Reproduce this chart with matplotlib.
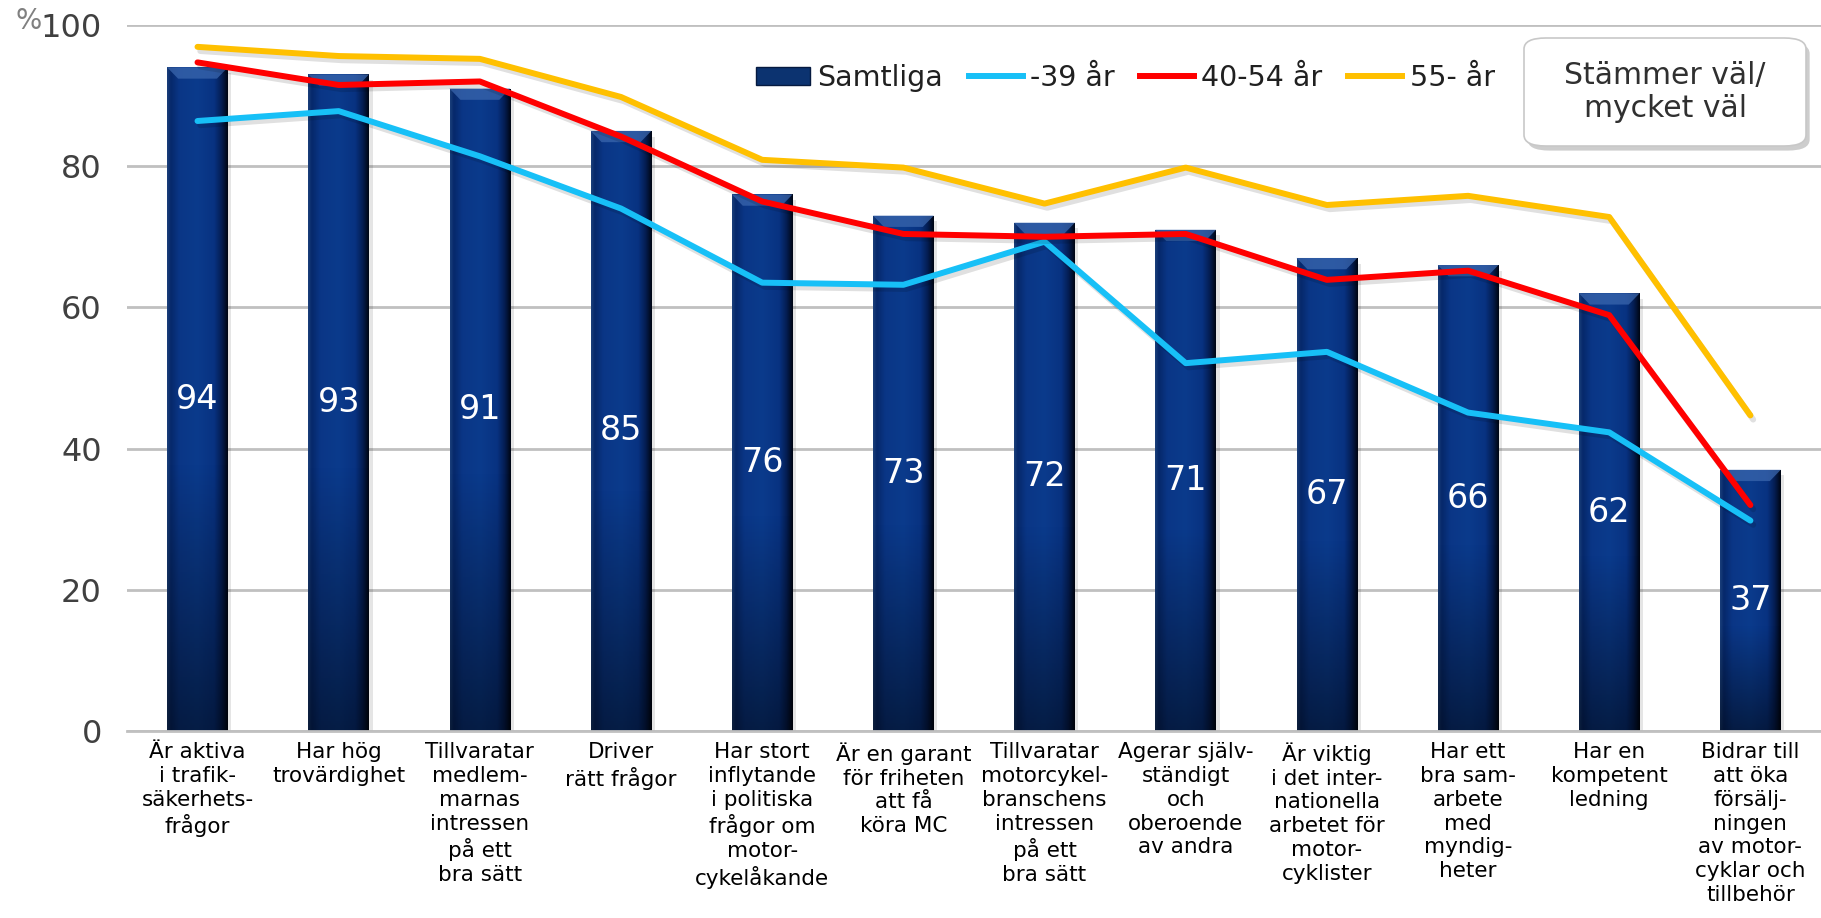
import numpy as np
import matplotlib
matplotlib.use("Agg")
import matplotlib.pyplot as plt
import matplotlib.patheffects as pe
from matplotlib.colors import LinearSegmentedColormap
from matplotlib.patches import Rectangle, FancyBboxPatch
from matplotlib.lines import Line2D

# -------------------- data --------------------
kategorier = [
    "Är aktiva\ni trafik-\nsäkerhets-\nfrågor",
    "Har hög\ntrovärdighet",
    "Tillvaratar\nmedlem-\nmarnas\nintressen\npå ett\nbra sätt",
    "Driver\nrätt frågor",
    "Har stort\ninflytande\ni politiska\nfrågor om\nmotor-\ncykelåkande",
    "Är en garant\nför friheten\natt få\nköra MC",
    "Tillvaratar\nmotorcykel-\nbranschens\nintressen\npå ett\nbra sätt",
    "Agerar själv-\nständigt\noch\noberoende\nav andra",
    "Är viktig\ni det inter-\nnationella\narbetet för\nmotor-\ncyklister",
    "Har ett\nbra sam-\narbete\nmed\nmyndig-\nheter",
    "Har en\nkompetent\nledning",
    "Bidrar till\natt öka\nförsälj-\nningen\nav motor-\ncyklar och\ntillbehör",
]
samtliga = [94, 93, 91, 85, 76, 73, 72, 71, 67, 66, 62, 37]
under39 = [86.4, 87.8, 81.4, 74.0, 63.5, 63.2, 69.3, 52.1, 53.7, 45.1, 42.3, 29.8]
ar40_54 = [94.7, 91.5, 92.0, 84.2, 75.0, 70.4, 70.0, 70.4, 63.9, 65.2, 58.9, 32.0]
ar55 = [96.9, 95.6, 95.2, 89.8, 80.9, 79.8, 74.7, 79.8, 74.5, 75.8, 72.8, 44.7]
yticks = [0, 20, 40, 60, 80, 100]

# -------------------- style --------------------
NAVY = "#0a3580"
CYAN = "#17c0f7"
RED = "#ff0000"
GOLD = "#ffc000"
GRID = "#c0c0c0"

label_font = ["Liberation Sans Narrow", "DejaVu Sans Condensed", "DejaVu Sans"]

fig = plt.figure(figsize=(18.21, 9.18), dpi=100)
ax = fig.add_axes([0.0697, 0.2037, 0.9303, 0.7691])

x = np.arange(len(kategorier))
bw = 0.43

ax.set_xlim(-0.5, len(kategorier) - 0.5)
ax.set_ylim(0, 100)
ax.set_yticks(yticks)
ax.yaxis.grid(True, color=GRID, linewidth=2, zorder=0)
ax.set_axisbelow(True)
for s in ["left", "right", "top"]:
    ax.spines[s].set_visible(False)
ax.spines["bottom"].set_color(GRID)
ax.spines["bottom"].set_linewidth(2)
ax.tick_params(axis="y", length=0, pad=18, labelsize=23, labelcolor="#404040")
ax.tick_params(axis="x", length=0, pad=8)
ax.set_xticks(x)
ax.set_xticklabels(kategorier, family=label_font, fontsize=15.5, linespacing=1.24,
                   va="top", ha="center")

# gradient for the bars: thin dark edges, blue body, darker right side
cmap = LinearSegmentedColormap.from_list(
    "navy", [(0.0, "#1a3f7a"), (0.06, "#06286a"), (0.2, "#0a3686"), (0.5, "#0b3b8c"),
             (0.78, "#083281"), (0.9, "#041d52"), (1.0, "#000614")])
hprof = np.linspace(0, 1, 128)
grad = np.tile(hprof, (8, 1))

bars = ax.bar(x, samtliga, width=bw, color=NAVY, zorder=2, edgecolor="none")
for b, v in zip(bars, samtliga):
    x0 = b.get_x()
    # soft shadow to the right
    ax.add_patch(Rectangle((x0 + bw, 0), 0.025, v - 0.8, color="black", alpha=0.10,
                           zorder=1.5, linewidth=0))
    im = ax.imshow(grad, cmap=cmap, extent=[x0, x0 + bw, 0, v], aspect="auto",
                   zorder=2.1, interpolation="bilinear")
    im.set_clip_path(b)
    # darkening toward base
    n = 100
    shade = np.zeros((n, 1, 4))
    t = np.linspace(1, 0, n)  # 1 at top row, 0 at bottom
    shade[:, 0, 3] = np.clip((0.4 - t) / 0.4, 0, 1) * 0.5
    sh = ax.imshow(shade, extent=[x0, x0 + bw, 0, v], aspect="auto", zorder=2.2,
                   interpolation="bilinear", origin="upper")
    sh.set_clip_path(b)
    # bevel at top
    ax.fill([x0, x0 + bw, x0 + bw * 0.82, x0 + bw * 0.18],
            [v, v, v - 1.6, v - 1.6], color="#3a66ad", alpha=0.75, zorder=2.3, linewidth=0)
    ax.text(x0 + bw / 2, v / 2, str(v), color="white", fontsize=24,
            ha="center", va="center", zorder=4)

shadow = [pe.SimpleLineShadow(offset=(2, -3), alpha=0.12, shadow_color="black"), pe.Normal()]
ax.plot(x, under39, color=CYAN, lw=4.3, zorder=3, solid_capstyle="round",
        solid_joinstyle="round", path_effects=shadow)
ax.plot(x, ar40_54, color=RED, lw=4.3, zorder=3, solid_capstyle="round",
        solid_joinstyle="round", path_effects=shadow)
ax.plot(x, ar55, color=GOLD, lw=4.3, zorder=3, solid_capstyle="round",
        solid_joinstyle="round", path_effects=shadow)

# percent sign next to top tick
fig.text(29 / 1821, 1 - 21 / 918, "%", fontsize=20, color="#808080", ha="center", va="center")

# legend
handles = [
    Rectangle((0, 0), 1, 1, facecolor="#0c3370", edgecolor="#061a40"),
    Line2D([0], [0], color=CYAN, lw=4.3),
    Line2D([0], [0], color=RED, lw=4.3),
    Line2D([0], [0], color=GOLD, lw=4.3),
]
leg = fig.legend(handles, ["Samtliga", "-39 år", "40-54 år", "55- år"],
                 loc="center", bbox_to_anchor=(0.618, 1 - 78 / 918), ncol=4,
                 frameon=False, fontsize=20.5, handlelength=1.9, handleheight=0.6,
                 handletextpad=0.25, columnspacing=0.9, labelcolor="#202020")

# info box with shadow
bx0, bx1, by0, by1 = 1524 / 1821, 1806 / 1821, 1 - 146 / 918, 1 - 38 / 918
fig.patches.append(FancyBboxPatch((bx0 + 0.002, by0 - 0.005), bx1 - bx0, by1 - by0,
                                  boxstyle="round,pad=0,rounding_size=0.012",
                                  transform=fig.transFigure, facecolor="#909090",
                                  edgecolor="none", alpha=0.45, zorder=1))
fig.patches.append(FancyBboxPatch((bx0, by0), bx1 - bx0, by1 - by0,
                                  boxstyle="round,pad=0,rounding_size=0.012",
                                  transform=fig.transFigure, facecolor="white",
                                  edgecolor="#c8c8c8", linewidth=1.2, zorder=2))
fig.text((bx0 + bx1) / 2, (by0 + by1) / 2, "Stämmer väl/\nmycket väl", fontsize=21.5,
         ha="center", va="center", color="#303030", linespacing=1.2, zorder=3)

fig.savefig("out.png", dpi=100, facecolor="white")
